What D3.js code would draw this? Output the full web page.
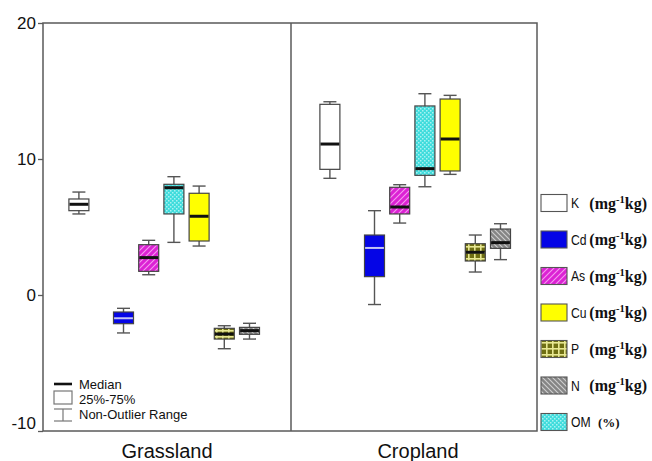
<!DOCTYPE html>
<html>
<head>
<meta charset="utf-8">
<script src="https://cdn.jsdelivr.net/npm/d3@7"></script>
<style>
  body { margin: 0; background: #fff; }
  svg { display: block; }
</style>
</head>
<body>
<svg id="chart" width="652" height="461"></svg>
<script>
// ---- data -------------------------------------------------------------
const groups = ["Grassland", "Cropland"];
const variables = ["K", "Cd", "As", "OM", "Cu", "P", "N"];   // left-to-right order in each panel
const legendOrder = ["K", "Cd", "As", "Cu", "P", "N", "OM"];
const legendUnits = ["mg-1kg", "mg-1kg", "mg-1kg", "mg-1kg", "mg-1kg", "mg-1kg", "%"];
const yTicks = [-10, 0, 10, 20];

// box statistics, one value per variable (same order as `variables`)
const grassLow    = [5.96, -2.79, 1.49, 3.87, 3.60, -3.95, -3.24];
const grassQ1     = [6.20, -2.11, 1.74, 5.96, 3.97, -3.24, -2.89];
const grassMedian = [6.67, -1.71, 2.75, 7.89, 5.79, -2.87, -2.62];
const grassQ3     = [7.06, -1.25, 3.70, 8.14, 7.48, -2.45, -2.38];
const grassHigh   = [7.57, -0.98, 4.02, 8.70, 8.01, -2.26, -2.08];

const cropLow     = [8.58, -0.70, 5.29, 7.96, 8.87, 1.69, 2.60];
const cropQ1      = [9.24, 1.35, 5.96, 8.80, 9.12, 2.50, 3.43];
const cropMedian  = [11.10, 3.46, 6.47, 9.29, 11.47, 3.14, 3.85];
const cropQ3      = [14.02, 4.41, 7.92, 13.90, 14.41, 3.77, 4.85];
const cropHigh    = [14.21, 6.20, 8.11, 14.80, 14.68, 4.41, 5.24];

// ---- build rows -------------------------------------------------------
const statsByGroup = {
  Grassland: [grassLow, grassQ1, grassMedian, grassQ3, grassHigh],
  Cropland:  [cropLow, cropQ1, cropMedian, cropQ3, cropHigh]
};
const boxes = [];
groups.forEach(g => {
  const [lo, q1, md, q3, hi] = statsByGroup[g];
  variables.forEach((v, i) => {
    boxes.push({ group: g, variable: v, low: lo[i], q1: q1[i], median: md[i], q3: q3[i], high: hi[i] });
  });
});

// ---- layout -----------------------------------------------------------
const svg = d3.select("#chart");
const frame = { left: 43, right: 537, top: 23, bottom: 431, divider: 291 };

const y = d3.scaleLinear().domain([-10, 20]).range([frame.bottom, frame.top]);
const groupX = d3.scalePoint().domain(groups).range([167, 418]);
// slot index of each variable inside a panel (K sits apart from the rest)
const slotIndex = { K: -1.77, Cd: 0, As: 1, OM: 2, Cu: 3, P: 4, N: 5 };
const slotX = d3.scaleLinear().domain([0, 1]).range([-43.5, -43.5 + 25.2]);
const xOf = d => groupX(d.group) + slotX(slotIndex[d.variable]);

const boxW = 20, capW = 13;

// ---- fills ------------------------------------------------------------
const defs = svg.append("defs");

function hatch(id, bg, fg, dir, size) {
  const p = defs.append("pattern").attr("id", id)
    .attr("patternUnits", "userSpaceOnUse").attr("width", size).attr("height", size);
  p.append("rect").attr("width", size).attr("height", size).attr("fill", bg);
  const s = size;
  const d = dir === "up"
    ? `M${-s/2},${s/2} L${s/2},${-s/2} M0,${s} L${s},0 M${s/2},${s*1.5} L${s*1.5},${s/2}`
    : `M${-s/2},${s/2} L${s/2},${s*1.5} M0,0 L${s},${s} M${s/2},${-s/2} L${s*1.5},${s/2}`;
  p.append("path").attr("d", d).attr("stroke", fg).attr("stroke-width", 1.1);
}
hatch("fillAs", "#dc22d4", "#f59af0", "up", 6);
hatch("fillN", "#858585", "#cfcfcf", "down", 5);

const pP = defs.append("pattern").attr("id", "fillP")
  .attr("patternUnits", "userSpaceOnUse").attr("width", 6).attr("height", 6);
pP.append("rect").attr("width", 6).attr("height", 6).attr("fill", "#6f6f12");
pP.append("rect").attr("x", 0).attr("y", 0).attr("width", 6).attr("height", 1.6).attr("fill", "#e8e892");
pP.append("rect").attr("x", 0).attr("y", 0).attr("width", 1.6).attr("height", 6).attr("fill", "#e8e892");

const pOM = defs.append("pattern").attr("id", "fillOM")
  .attr("patternUnits", "userSpaceOnUse").attr("width", 4).attr("height", 4);
pOM.append("rect").attr("width", 4).attr("height", 4).attr("fill", "#3fdcdc");
pOM.append("rect").attr("x", 0).attr("y", 0).attr("width", 1.5).attr("height", 1.5).attr("fill", "#a8f2f2");
pOM.append("rect").attr("x", 2).attr("y", 2).attr("width", 1.5).attr("height", 1.5).attr("fill", "#a8f2f2");

const fillOf = {
  K: "#ffffff", Cd: "#0505e6", As: "url(#fillAs)", Cu: "#ffff00",
  P: "url(#fillP)", N: "url(#fillN)", OM: "url(#fillOM)"
};
const medianColor = v => v === "Cd" ? "#c4c4f4" : "#111";

// ---- frame ------------------------------------------------------------
const frameColor = "#5a5a5a";
svg.append("rect")
  .attr("x", frame.left).attr("y", frame.top)
  .attr("width", frame.right - frame.left).attr("height", frame.bottom - frame.top)
  .attr("fill", "none").attr("stroke", frameColor).attr("stroke-width", 1.5);
svg.append("line")
  .attr("x1", frame.divider).attr("x2", frame.divider)
  .attr("y1", frame.top).attr("y2", frame.bottom)
  .attr("stroke", frameColor).attr("stroke-width", 1.5);

// ---- y axis -----------------------------------------------------------
const yAxis = svg.append("g")
  .attr("transform", `translate(${frame.left},0)`)
  .call(d3.axisLeft(y).tickValues(yTicks).tickSize(5).tickPadding(2).tickFormat(d => String(d)));
yAxis.select(".domain").remove();
yAxis.selectAll(".tick line").attr("stroke", frameColor).attr("stroke-width", 1.3);
yAxis.selectAll(".tick text")
  .attr("font-family", "Liberation Sans, Arial, sans-serif")
  .attr("font-size", 17).attr("fill", "#111")
  .attr("dy", d => d === d3.min(yTicks) ? "-0.15em" : "0.32em");

// ---- group labels -----------------------------------------------------
svg.selectAll("text.group")
  .data(groups).join("text")
  .attr("class", "group")
  .attr("x", d => groupX(d)).attr("y", 458)
  .attr("text-anchor", "middle")
  .attr("font-family", "Liberation Sans, Arial, sans-serif")
  .attr("font-size", 20).attr("fill", "#111")
  .text(d => d);

// ---- boxes ------------------------------------------------------------
const whiskerColor = "#555";
const g = svg.selectAll("g.box").data(boxes).join("g").attr("class", "box");

g.append("line")
  .attr("x1", xOf).attr("x2", xOf)
  .attr("y1", d => y(d.low)).attr("y2", d => y(d.high))
  .attr("stroke", whiskerColor).attr("stroke-width", 1.4);
g.append("line")
  .attr("x1", d => xOf(d) - capW / 2).attr("x2", d => xOf(d) + capW / 2)
  .attr("y1", d => y(d.high)).attr("y2", d => y(d.high))
  .attr("stroke", whiskerColor).attr("stroke-width", 1.4);
g.append("line")
  .attr("x1", d => xOf(d) - capW / 2).attr("x2", d => xOf(d) + capW / 2)
  .attr("y1", d => y(d.low)).attr("y2", d => y(d.low))
  .attr("stroke", whiskerColor).attr("stroke-width", 1.4);
g.append("rect")
  .attr("x", d => xOf(d) - boxW / 2).attr("width", boxW)
  .attr("y", d => y(d.q3)).attr("height", d => y(d.q1) - y(d.q3))
  .attr("fill", d => fillOf[d.variable])
  .attr("stroke", "#444").attr("stroke-width", 1.2);
g.append("line")
  .attr("x1", d => xOf(d) - boxW / 2 + 0.6).attr("x2", d => xOf(d) + boxW / 2 - 0.6)
  .attr("y1", d => y(d.median)).attr("y2", d => y(d.median))
  .attr("stroke", d => medianColor(d.variable))
  .attr("stroke-width", d => d.variable === "Cd" ? 2 : 3);

// ---- key for box elements (lower left) --------------------------------
const key = svg.append("g").attr("font-family", "Liberation Sans, Arial, sans-serif")
  .attr("font-size", 13).attr("fill", "#111");
const kx0 = 54, kx1 = 72, kmid = (kx0 + kx1) / 2;
key.append("line").attr("x1", kx0).attr("x2", kx1).attr("y1", 384).attr("y2", 384)
  .attr("stroke", "#111").attr("stroke-width", 2.6);
key.append("rect").attr("x", kx0).attr("y", 391).attr("width", kx1 - kx0).attr("height", 13)
  .attr("fill", "#fff").attr("stroke", "#777").attr("stroke-width", 1.2);
key.append("line").attr("x1", kx0).attr("x2", kx1).attr("y1", 409).attr("y2", 409)
  .attr("stroke", "#777").attr("stroke-width", 1.2);
key.append("line").attr("x1", kx0).attr("x2", kx1).attr("y1", 421).attr("y2", 421)
  .attr("stroke", "#777").attr("stroke-width", 1.2);
key.append("line").attr("x1", kmid).attr("x2", kmid).attr("y1", 409).attr("y2", 421)
  .attr("stroke", "#777").attr("stroke-width", 1.2);
[["Median", 384], ["25%-75%", 399], ["Non-Outlier Range", 414]].forEach(([t, yy]) => {
  key.append("text").attr("x", 79).attr("y", yy).attr("dy", "0.36em").text(t);
});

// ---- variable legend (right) ------------------------------------------
const legY = d3.scalePoint().domain(legendOrder).range([203, 422]);
const leg = svg.append("g");
legendOrder.forEach((v, i) => {
  const cy = legY(v);
  leg.append("rect")
    .attr("x", 541).attr("y", cy - 8.5).attr("width", 26).attr("height", 17)
    .attr("fill", fillOf[v]).attr("stroke", "#555").attr("stroke-width", 1.1);
  // element symbol, set in a slightly condensed sans
  const sym = leg.append("text")
    .attr("transform", `translate(571,${cy}) scale(0.84,1)`)
    .attr("dy", "0.36em")
    .attr("font-family", "Liberation Sans, Arial, sans-serif")
    .attr("font-size", 14.5).attr("fill", "#111").text(v);
  const unit = legendUnits[i];
  if (unit === "%") {
    leg.append("text").attr("x", 598).attr("y", cy).attr("dy", "0.36em")
      .attr("font-family", "Liberation Serif, Times New Roman, serif")
      .attr("font-weight", "bold").attr("font-size", 13).attr("fill", "#111").text("(%)");
  } else {
    const [base, rest] = unit.split("-");        // "mg", "1kg"
    const u = leg.append("text").attr("x", 647).attr("y", cy).attr("dy", "0.36em")
      .attr("text-anchor", "end")
      .attr("font-family", "Liberation Serif, Times New Roman, serif")
      .attr("font-weight", "bold").attr("font-size", 16).attr("fill", "#111");
    u.append("tspan").text("(" + base);
    u.append("tspan").attr("font-size", 10.5).attr("dy", -6).text("-" + rest.slice(0, 1));
    u.append("tspan").attr("dy", 6).text(rest.slice(1) + ")");
  }
});
</script>
</body>
</html>
